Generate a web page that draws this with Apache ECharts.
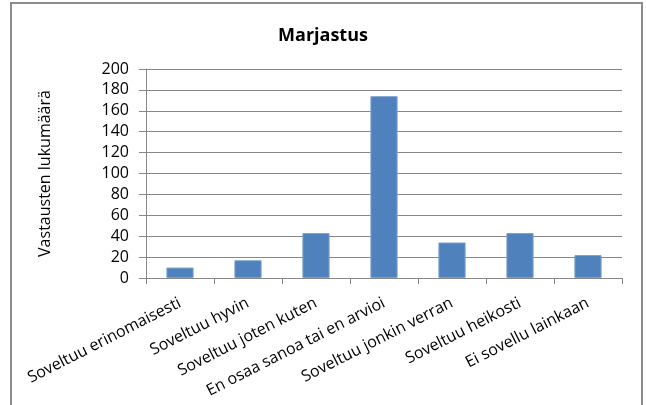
<!DOCTYPE html>
<html>
<head>
<meta charset="utf-8">
<script src="https://cdn.jsdelivr.net/npm/echarts@6/dist/echarts.min.js"></script>
<style>
html, body { margin: 0; padding: 0; background: #fff; }
#main { width: 646px; height: 405px; }
</style>
</head>
<body>
<div id="main"></div>
<script>
const categories = [
  'Soveltuu erinomaisesti',
  'Soveltuu hyvin',
  'Soveltuu joten kuten',
  'En osaa sanoa tai en arvioi',
  'Soveltuu jonkin verran',
  'Soveltuu heikosti',
  'Ei sovellu lainkaan'
];
const answers = [10, 17, 43, 174, 34, 43, 22];
const yTicks = { min: 0, max: 200, interval: 20 };

const chart = echarts.init(document.getElementById('main'));

const option = {
  animation: false,
  textStyle: { fontFamily: 'Open Sans' },
  title: {
    text: 'Marjastus',
    left: 'center',
    top: 22,
    textStyle: { fontSize: 18, fontWeight: 'bold', color: '#000', fontFamily: 'Open Sans' }
  },
  graphic: [{
    type: 'rect',
    shape: { x: 11, y: 3, width: 631, height: 440 },
    style: { fill: 'none', stroke: '#8c8c8c', lineWidth: 2 },
    silent: true
  }],
  grid: { left: 146, right: 24, top: 69, bottom: 127 },
  xAxis: {
    type: 'category',
    data: categories,
    axisLine: { lineStyle: { color: '#868686' } },
    axisTick: { show: true, length: 6, lineStyle: { color: '#868686' } },
    axisLabel: { rotate: 27, interval: 0, margin: 24, fontSize: 16, color: '#000' }
  },
  yAxis: {
    type: 'value',
    min: yTicks.min,
    max: yTicks.max,
    interval: yTicks.interval,
    name: 'Vastausten lukumäärä',
    nameLocation: 'middle',
    nameGap: 93,
    nameTextStyle: { fontSize: 16, color: '#000' },
    axisLine: { show: true, lineStyle: { color: '#868686' } },
    axisTick: { show: true, length: 7, lineStyle: { color: '#868686' } },
    axisLabel: { fontSize: 16, color: '#000', margin: 17 },
    splitLine: { lineStyle: { color: '#868686' } }
  },
  series: [{
    type: 'bar',
    data: answers,
    barWidth: '40%',
    itemStyle: { color: '#4f81bd', borderColor: '#7ea1cf', borderWidth: 1 }
  }]
};

chart.setOption(option);
</script>
</body>
</html>
